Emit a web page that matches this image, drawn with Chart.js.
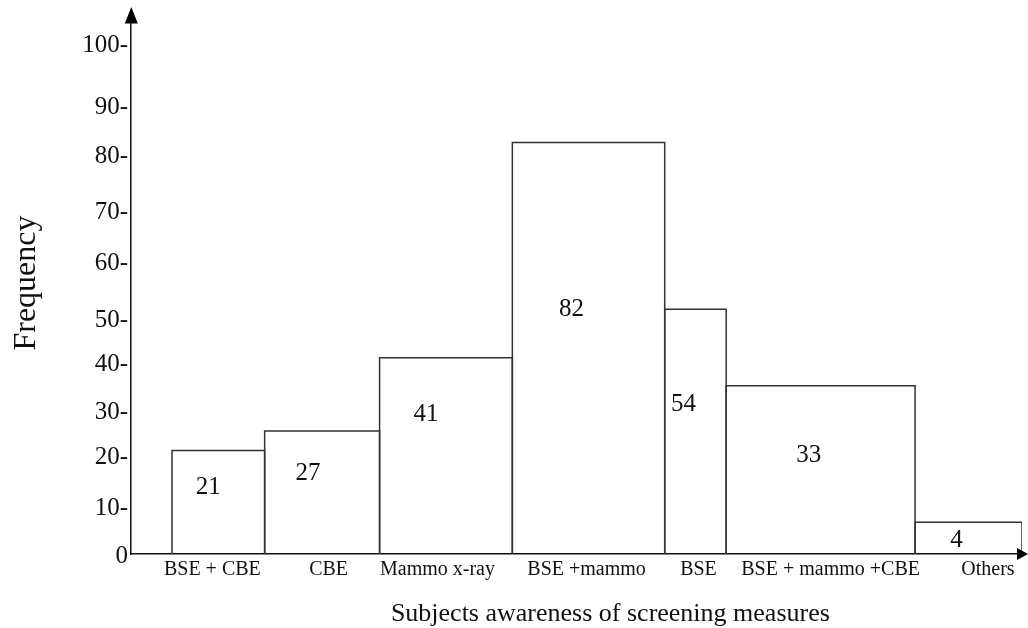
<!DOCTYPE html>
<html>
<head>
<meta charset="utf-8">
<script src="https://cdn.jsdelivr.net/npm/chart.js@4.4.1/dist/chart.umd.min.js"></script>
<style>
  html, body { margin: 0; padding: 0; background: #ffffff; }
  #wrap { width: 1028px; height: 628px; position: relative; }
</style>
</head>
<body>
<div id="wrap"><canvas id="c" width="1028" height="628"></canvas></div>
<script>
// ---------------- data ----------------
const categories  = ['BSE + CBE', 'CBE', 'Mammo x-ray', 'BSE +mammo', 'BSE', 'BSE + mammo +CBE', 'Others'];
const frequencies = [21, 27, 41, 82, 54, 33, 4];                 // printed values
const barHeights  = [21.0, 25.4, 41.1, 82.4, 51.6, 35.2, 6.7];   // heights as drawn, read on the y axis
const barWidths   = [10.4, 12.9, 14.9, 17.1, 6.9, 21.2, 12.0];   // relative bar widths (x axis 0-100)
const leadingGap  = 4.6;                                         // empty space before first bar (x units)
const yTickValues = [0, 10, 20, 30, 40, 50, 60, 70, 80, 90, 100];
const yTickLabels = ['0', '10-', '20-', '30-', '40-', '50-', '60-', '70-', '80-', '90-', '100-'];
const xTitle = 'Subjects awareness of screening measures';
const yTitle = 'Frequency';

// ---------------- layout / style ----------------
const FONT = '"Liberation Serif", "Times New Roman", serif';
const INK = '#111111';
// the printed y axis is not evenly spaced: value -> fraction of axis height
const yWarpValues = [0, 10, 20, 30, 40, 50, 60, 70, 80, 90, 100, 105];
const yWarpFracs  = [0, 0.0873, 0.1827, 0.2644, 0.3530, 0.4349, 0.5393, 0.6347, 0.7375, 0.8284, 0.9423, 1];
const catLabelShift  = [-0.67, 0.73, -0.95, -0.22, 0.34, 1.12, 2.18]; // x units from bar centre
const valueLabelFrac = [0.66, 0.67, 0.72, 0.60, 0.62, 0.60, 0.50];     // fraction of bar height
const valueLabelDx   = [-10, -14, -20, -17, -12, -12, -12];            // px from bar centre
const valueLabelDy   = 2;                                              // px
const xTitleAt = 53.8;                                                // x units

function warp(v) {
  const n = yWarpValues.length;
  if (v <= yWarpValues[0]) return yWarpFracs[0] + (v - yWarpValues[0]) * (yWarpFracs[1] - yWarpFracs[0]) / (yWarpValues[1] - yWarpValues[0]);
  for (let i = 1; i < n; i++) {
    if (v <= yWarpValues[i]) {
      const t = (v - yWarpValues[i - 1]) / (yWarpValues[i] - yWarpValues[i - 1]);
      return yWarpFracs[i - 1] + t * (yWarpFracs[i] - yWarpFracs[i - 1]);
    }
  }
  return yWarpFracs[n - 1] + (v - yWarpValues[n - 1]) * (yWarpFracs[n - 1] - yWarpFracs[n - 2]) / (yWarpValues[n - 1] - yWarpValues[n - 2]);
}
function unwarp(f) {
  const n = yWarpFracs.length;
  for (let i = 1; i < n; i++) {
    if (f <= yWarpFracs[i] || i === n - 1) {
      const t = (f - yWarpFracs[i - 1]) / (yWarpFracs[i] - yWarpFracs[i - 1]);
      return yWarpValues[i - 1] + t * (yWarpValues[i] - yWarpValues[i - 1]);
    }
  }
}

class WarpScale extends Chart.LinearScale {
  getPixelForValue(value) {
    if (value === null || value === undefined || isNaN(value)) return NaN;
    return this.getPixelForDecimal(warp(value));
  }
  getValueForPixel(pixel) {
    return unwarp(this.getDecimalForPixel(pixel));
  }
}
WarpScale.id = 'warp';
WarpScale.defaults = Chart.LinearScale.defaults;
Chart.register(WarpScale);

// bar edges from widths
const edges = [leadingGap];
barWidths.forEach(w => edges.push(edges[edges.length - 1] + w));

const datasets = categories.map((c, i) => ({
  label: c,
  data: [
    { x: edges[i], y: 0 },
    { x: edges[i], y: barHeights[i] },
    { x: edges[i + 1], y: barHeights[i] },
    { x: edges[i + 1], y: 0 }
  ],
  showLine: true,
  borderColor: '#333333',
  borderWidth: 1.5,
  pointRadius: 0,
  pointHoverRadius: 0,
  fill: false,
  tension: 0
}));

const extras = {
  id: 'extras',
  afterDraw(chart) {
    const { ctx, chartArea, scales: { x, y } } = chart;
    ctx.save();
    // value labels
    ctx.fillStyle = INK;
    ctx.font = '25px ' + FONT;
    ctx.textAlign = 'center';
    ctx.textBaseline = 'middle';
    frequencies.forEach((f, i) => {
      const px = (x.getPixelForValue(edges[i]) + x.getPixelForValue(edges[i + 1])) / 2 + valueLabelDx[i];
      const y0 = y.getPixelForValue(0);
      const py = y0 + (y.getPixelForValue(barHeights[i]) - y0) * valueLabelFrac[i] + valueLabelDy;
      ctx.fillText(String(f), px, py);
    });
    // x title
    ctx.font = '26px ' + FONT;
    ctx.textBaseline = 'alphabetic';
    ctx.fillText(xTitle, x.getPixelForValue(xTitleAt), chart.height - 7);
    // arrows
    ctx.fillStyle = '#000000';
    ctx.strokeStyle = '#111111';
    ctx.lineWidth = 1.5;
    const ax = chartArea.left;
    ctx.beginPath();
    ctx.moveTo(ax, chartArea.top);
    ctx.lineTo(ax, 20);
    ctx.stroke();
    ctx.beginPath();
    ctx.moveTo(ax + 0.3, 7);
    ctx.lineTo(ax - 6.2, 23.5);
    ctx.lineTo(ax + 6.8, 23.5);
    ctx.closePath();
    ctx.fill();
    const by = chartArea.bottom;
    ctx.beginPath();
    ctx.moveTo(chartArea.right, by);
    ctx.lineTo(1022, by);
    ctx.stroke();
    ctx.beginPath();
    ctx.moveTo(1028, by);
    ctx.lineTo(1017, by - 6);
    ctx.lineTo(1017, by + 6);
    ctx.closePath();
    ctx.fill();
    ctx.restore();
  }
};

new Chart(document.getElementById('c'), {
  type: 'scatter',
  data: { datasets },
  plugins: [extras],
  options: {
    responsive: false,
    devicePixelRatio: 1,
    animation: false,
    layout: { padding: { top: 12, right: 6, left: 0, bottom: 0 } },
    plugins: { legend: { display: false }, tooltip: { enabled: false } },
    scales: {
      x: {
        type: 'linear',
        min: 0,
        max: 100,
        grid: { display: false, drawTicks: false, tickLength: 0 },
        border: { display: true, color: '#111111', width: 1.5 },
        afterBuildTicks: s => {
          s.ticks = categories.map((c, i) => ({ value: (edges[i] + edges[i + 1]) / 2 + catLabelShift[i] }));
        },
        afterFit: s => { s.height = 74; s.paddingLeft = 0; s.paddingRight = 0; },
        ticks: {
          autoSkip: false,
          maxRotation: 0,
          minRotation: 0,
          padding: 4,
          color: INK,
          font: { family: FONT, size: 20 },
          callback: (v, i) => categories[i]
        }
      },
      y: {
        type: 'warp',
        min: 0,
        max: 105,
        grid: { display: false, drawTicks: false, tickLength: 0 },
        border: { display: true, color: '#111111', width: 1.5 },
        afterBuildTicks: s => { s.ticks = yTickValues.map(v => ({ value: v })); },
        afterFit: s => { s.width = 131; s.paddingTop = 0; s.paddingBottom = 0; },
        ticks: {
          autoSkip: false,
          padding: 3,
          labelOffset: 2,
          color: INK,
          font: { family: FONT, size: 25 },
          callback: (v, i) => yTickLabels[i]
        },
        title: {
          display: true,
          text: yTitle,
          color: INK,
          font: { family: FONT, size: 32 },
          padding: { top: 7, bottom: 0 }
        }
      }
    }
  }
});
</script>
</body>
</html>
